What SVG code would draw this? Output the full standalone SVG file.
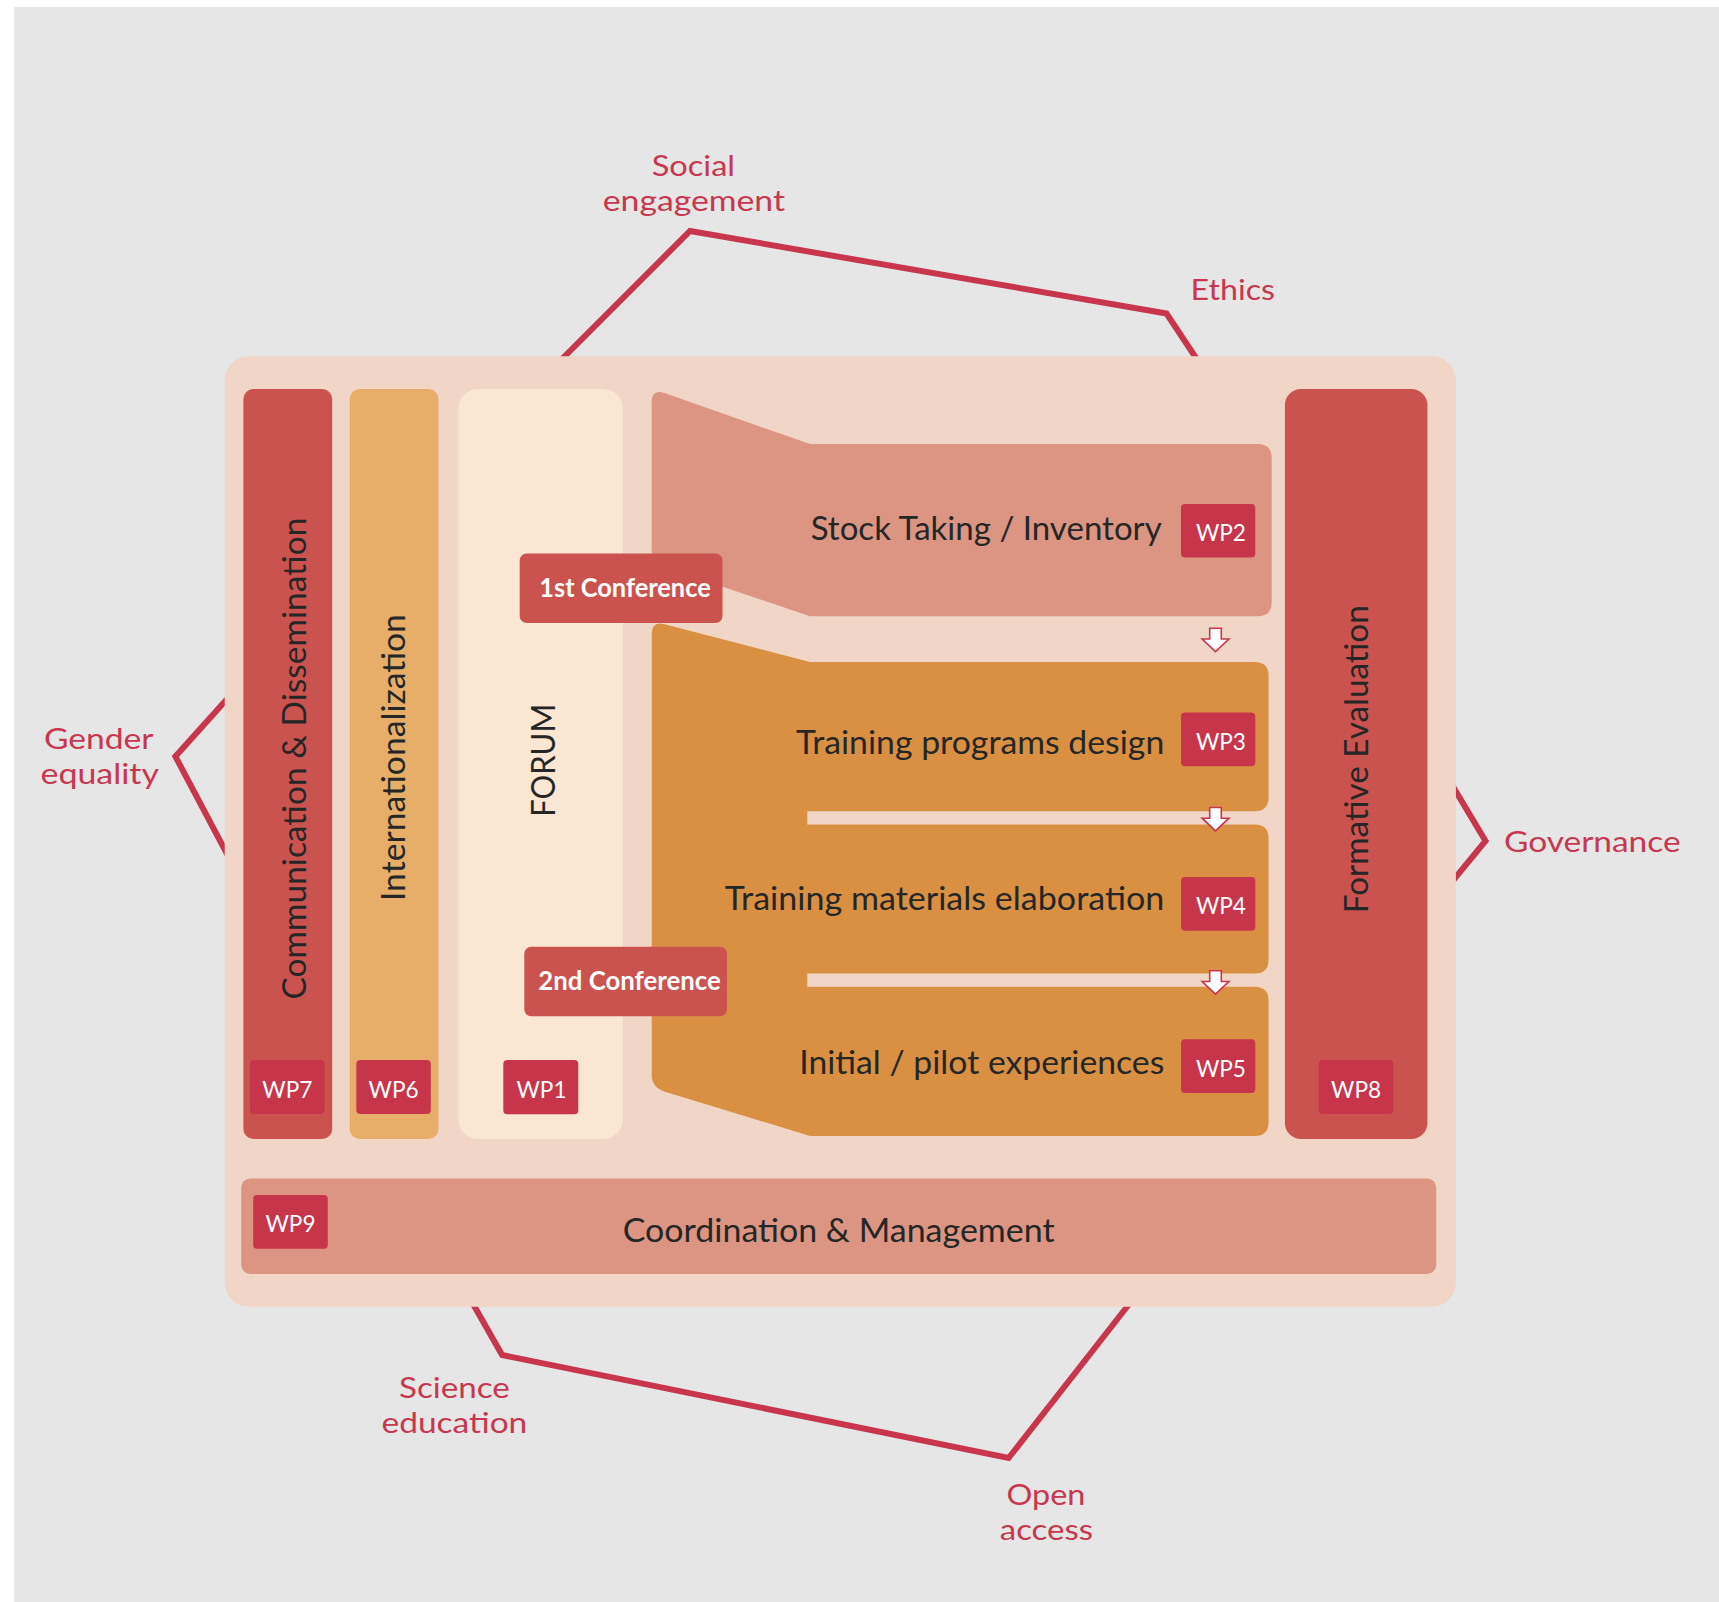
<svg xmlns="http://www.w3.org/2000/svg" width="1719" height="1602" viewBox="0 0 1719 1602">
<style>
.bg{fill:#e6e6e6}
.hex{fill:none;stroke:#c8364e;stroke-width:6;stroke-linejoin:miter}
.lbl{font-family:Lato,"Liberation Sans",sans-serif;font-size:29px;fill:#c8374f;text-anchor:middle}
.t{font-family:Lato,"Liberation Sans",sans-serif;font-size:33px;fill:#262626}
.tv{font-family:Lato,"Liberation Sans",sans-serif;font-size:33px;fill:#262626;text-anchor:middle}
.wp{fill:#c7354b}
.wpt{font-family:Lato,"Liberation Sans",sans-serif;font-size:24px;fill:#ffffff;text-anchor:middle}
.conf{fill:#cb534f}
.conft{font-family:Lato,"Liberation Sans",sans-serif;font-weight:bold;font-size:26px;fill:#ffffff;text-anchor:middle}
.arr{fill:#ffffff;stroke:#c8364e;stroke-width:1.6;stroke-linejoin:miter}
</style>
<defs>
<path id="arrow" d="M-5.8,0 L5.8,0 L5.8,10.7 L13.4,10.7 L0,23.4 L-13.4,10.7 L-5.8,10.7 Z"/>
</defs>
<rect class="bg" x="14" y="7" width="1705" height="1595"/>

<g id="values">
<polyline class="hex" points="559,362 690,231 1166.5,313.5 1198.7,362"/>
<polyline class="hex" points="232,693.5 175.4,756.4 232,863.4"/>
<polyline class="hex" points="1448,778.3 1485.5,840.9 1448,886.6"/>
<polyline class="hex" points="470.8,1300 502.1,1355 1008.6,1458 1132.3,1300"/>
<text class="lbl"><tspan x="693.4" y="176" textLength="83.3" lengthAdjust="spacingAndGlyphs">Social</tspan><tspan x="693.9" y="211" textLength="182.3" lengthAdjust="spacingAndGlyphs">engagement</tspan></text>
<text class="lbl" x="1232.8" y="300" textLength="84.4" lengthAdjust="spacingAndGlyphs">Ethics</text>
<text class="lbl"><tspan x="98.7" y="748.5" textLength="109.6" lengthAdjust="spacingAndGlyphs">Gender</tspan><tspan x="99.8" y="783.5" textLength="118.4" lengthAdjust="spacingAndGlyphs">equality</tspan></text>
<text class="lbl" x="1592.3" y="851.5" textLength="176.6" lengthAdjust="spacingAndGlyphs">Governance</text>
<text class="lbl"><tspan x="454.4" y="1398" textLength="110.8" lengthAdjust="spacingAndGlyphs">Science</tspan><tspan x="454.4" y="1433" textLength="145.8" lengthAdjust="spacingAndGlyphs">education</tspan></text>
<text class="lbl"><tspan x="1045.9" y="1504.5" textLength="78.9" lengthAdjust="spacingAndGlyphs">Open</tspan><tspan x="1046.4" y="1539.5" textLength="93.2" lengthAdjust="spacingAndGlyphs">access</tspan></text>
</g>

<rect id="frame" x="224.7" y="356.3" width="1231.2" height="950.5" rx="24" fill="#f1d6c7"/>

<g id="wp7">
<rect x="243.4" y="389" width="88.8" height="750" rx="10" fill="#cb534f"/>
<text class="tv" transform="translate(306,758.6) rotate(-90)" textLength="482" lengthAdjust="spacingAndGlyphs">Communication &amp; Dissemination</text>
<rect class="wp" x="250" y="1060" width="74.5" height="53.9" rx="4"/>
<text class="wpt" x="287.3" y="1097.5" textLength="50" lengthAdjust="spacingAndGlyphs">WP7</text>
</g>

<g id="wp6">
<rect x="349.7" y="389" width="88.8" height="750" rx="10" fill="#e6ae68"/>
<text class="tv" transform="translate(405,757.6) rotate(-90)" textLength="287" lengthAdjust="spacingAndGlyphs">Internationalization</text>
<rect class="wp" x="356.3" y="1060" width="74.5" height="53.9" rx="4"/>
<text class="wpt" x="393.6" y="1097.5" textLength="50" lengthAdjust="spacingAndGlyphs">WP6</text>
</g>

<g id="wp1">
<rect x="458.4" y="389" width="164.5" height="750" rx="20" fill="#f9e7d3"/>
<text class="tv" transform="translate(555,760.3) rotate(-90)" textLength="113" lengthAdjust="spacingAndGlyphs">FORUM</text>
<rect class="wp" x="503.3" y="1060" width="75" height="54.3" rx="4"/>
<text class="wpt" x="541.5" y="1097.7" textLength="50" lengthAdjust="spacingAndGlyphs">WP1</text>
</g>

<g id="wp8">
<rect x="1284.9" y="389" width="142.5" height="750" rx="16" fill="#cb534f"/>
<text class="tv" transform="translate(1368,759.2) rotate(-90)" textLength="308" lengthAdjust="spacingAndGlyphs">Formative Evaluation</text>
<rect class="wp" x="1318.8" y="1060" width="74.6" height="53.9" rx="4"/>
<text class="wpt" x="1356.1" y="1097.5" textLength="50" lengthAdjust="spacingAndGlyphs">WP8</text>
</g>

<g id="wp9">
<rect x="241.2" y="1178.5" width="1195" height="95.4" rx="9" fill="#dc9583"/>
<rect class="wp" x="253.2" y="1195" width="74.6" height="53.7" rx="4"/>
<text class="wpt" x="290.5" y="1232.2" textLength="50" lengthAdjust="spacingAndGlyphs">WP9</text>
<text class="t" x="622.7" y="1241.5" textLength="431.9" lengthAdjust="spacingAndGlyphs">Coordination &amp; Management</text>
</g>

<g id="wp2">
<path d="M651.7,402 Q651.7,388.6 664.5,393.1 L810,444 L1257.7,444 Q1271.7,444 1271.7,458 L1271.7,602 Q1271.7,616.2 1257.7,616.2 L810,616.2 L665,567.2 Q651.7,562.6 651.7,550 Z" fill="#dc9583"/>
<text class="t" x="810.7" y="540" textLength="351" lengthAdjust="spacingAndGlyphs">Stock Taking / Inventory</text>
<rect class="wp" x="1181" y="504" width="74.3" height="53.5" rx="4"/>
<text class="wpt" x="1220.9" y="541" textLength="50" lengthAdjust="spacingAndGlyphs">WP2</text>
</g>

<g id="wp3-5">
<path d="M651.7,634 Q651.7,620.8 664.5,624.2 L810,662 L1254.6,662 Q1268.6,662 1268.6,676 L1268.6,797.3 Q1268.6,811.3 1254.6,811.3 L807.3,811.3 L807.3,824.4 L1254.6,824.4 Q1268.6,824.4 1268.6,838.4 L1268.6,959.5 Q1268.6,973.5 1254.6,973.5 L807.3,973.5 L807.3,986.7 L1254.6,986.7 Q1268.6,986.7 1268.6,1000.7 L1268.6,1122 Q1268.6,1136 1254.6,1136 L810,1136 L665,1091.7 Q651.7,1087.6 651.7,1075 Z" fill="#da9043"/>
</g>

<g id="wp3">
<text class="t" x="795.9" y="753.8" textLength="368.4" lengthAdjust="spacingAndGlyphs">Training programs design</text>
<rect class="wp" x="1181" y="712.6" width="74.3" height="53.7" rx="4"/>
<text class="wpt" x="1220.9" y="749.8" textLength="50" lengthAdjust="spacingAndGlyphs">WP3</text>
</g>

<g id="wp4">
<text class="t" x="724.7" y="909.5" textLength="439.6" lengthAdjust="spacingAndGlyphs">Training materials elaboration</text>
<rect class="wp" x="1181" y="877" width="74.3" height="53.7" rx="4"/>
<text class="wpt" x="1220.9" y="914.2" textLength="50" lengthAdjust="spacingAndGlyphs">WP4</text>
</g>

<g id="wp5">
<text class="t" x="799.2" y="1073.9" textLength="365.1" lengthAdjust="spacingAndGlyphs">Initial / pilot experiences</text>
<rect class="wp" x="1181" y="1039.3" width="74.3" height="53.7" rx="4"/>
<text class="wpt" x="1220.9" y="1076.5" textLength="50" lengthAdjust="spacingAndGlyphs">WP5</text>
</g>

<g id="conf1">
<rect class="conf" x="519.7" y="553.5" width="202.8" height="69.5" rx="7"/>
<text class="conft" x="625" y="596.7" textLength="171.4" lengthAdjust="spacingAndGlyphs">1st Conference</text>
</g>

<g id="conf2">
<rect class="conf" x="524.3" y="946.7" width="202.7" height="69.5" rx="7"/>
<text class="conft" x="629.5" y="990" textLength="182.4" lengthAdjust="spacingAndGlyphs">2nd Conference</text>
</g>

<g id="connectors">
<use href="#arrow" class="arr" transform="translate(1215.5,628.3)"/>
<use href="#arrow" class="arr" transform="translate(1215.5,807.5)"/>
<use href="#arrow" class="arr" transform="translate(1215.5,970.8)"/>
</g>
</svg>
